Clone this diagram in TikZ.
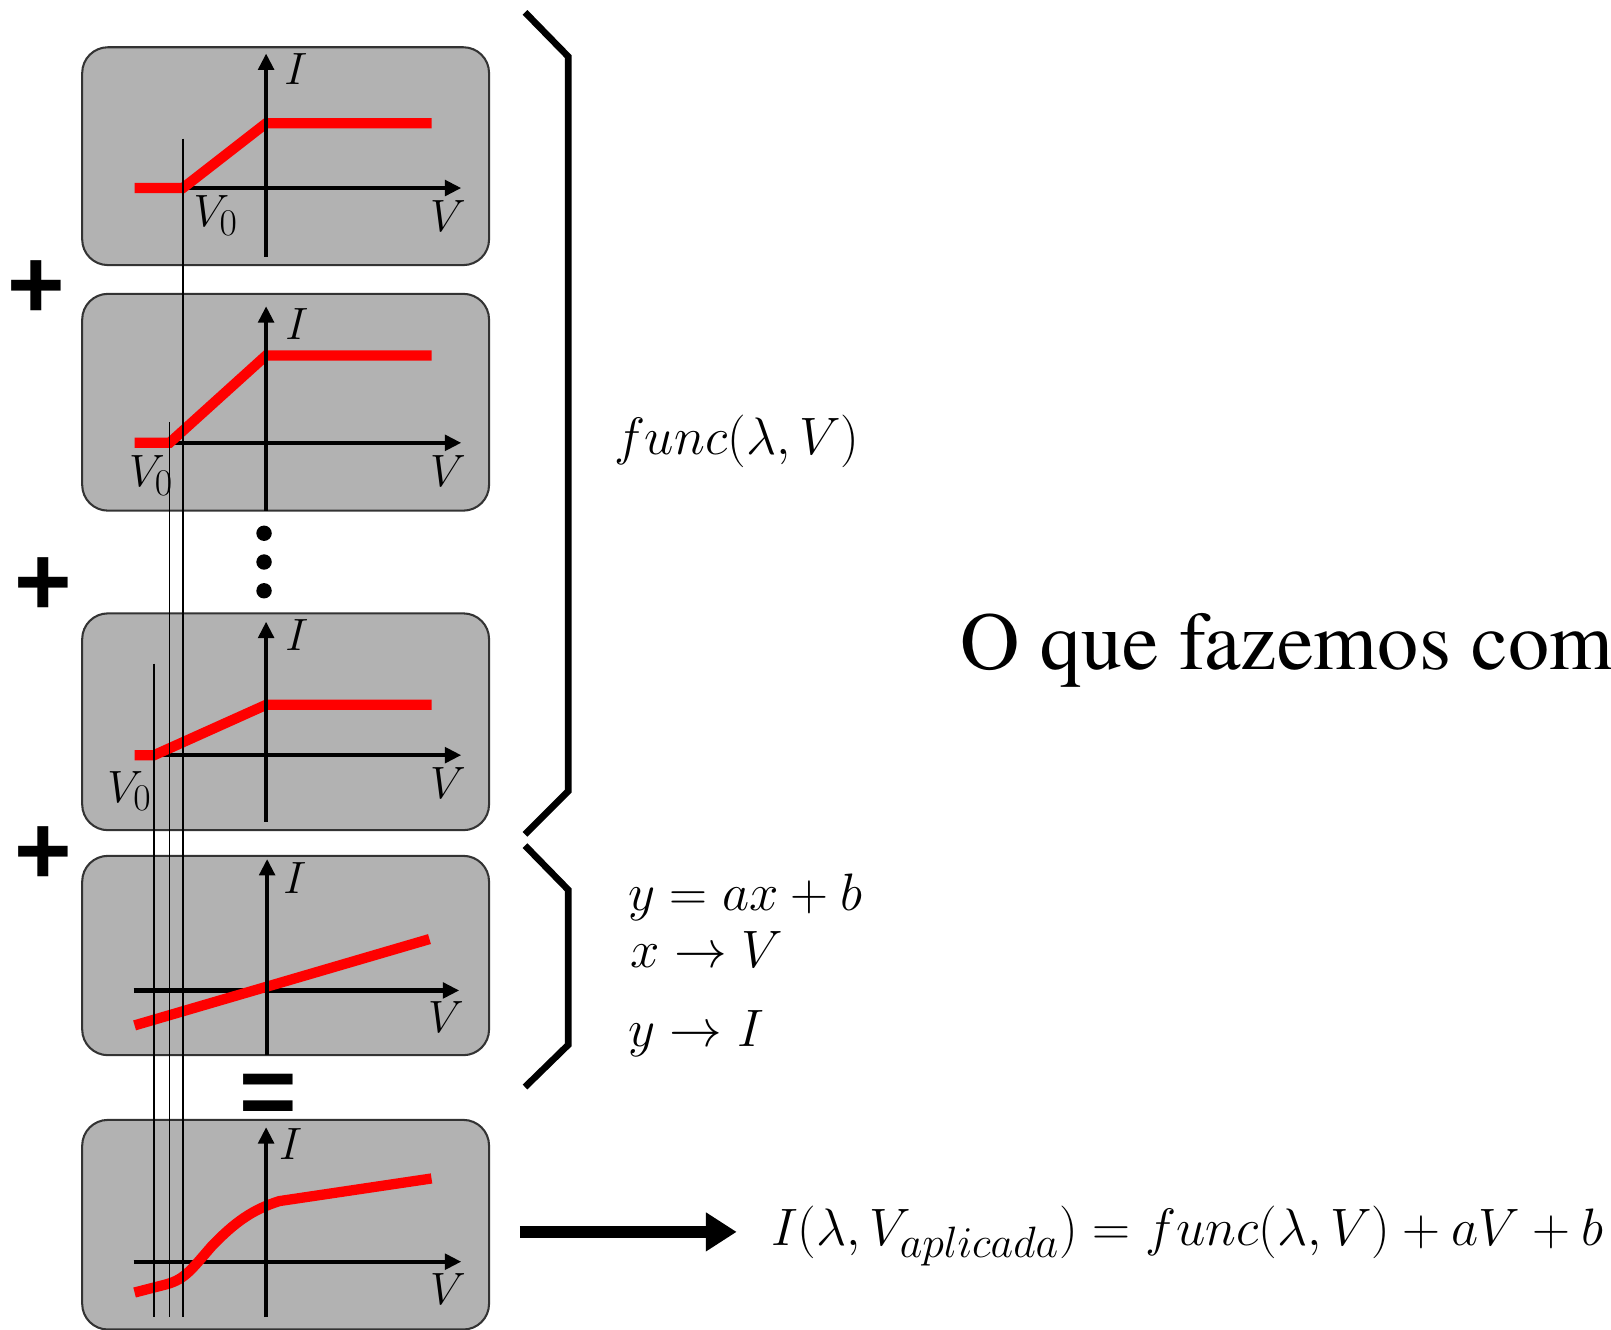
\documentclass[tikz,border=0pt]{standalone}
\usepackage{fontspec}
\newfontfamily\timesf{texgyretermes-regular.otf}
\newfontfamily\arialf{Liberation Sans}
\usetikzlibrary{arrows.meta}
\definecolor{boxgray}{RGB}{178,178,178}
\begin{document}
\begin{tikzpicture}[x=1pt,y=-1pt,
  plotbox/.style={draw=black!80, line width=2pt, fill=boxgray, rounded corners=25pt, minimum width=396pt, inner sep=0pt},
  axis/.style={line width=4pt, -{Triangle[length=16pt,width=15pt]}},
  haxis/.style={line width=4pt, -{Triangle[length=16pt,width=15pt]}},
  curve/.style={red, line width=10pt},
  guide/.style={line width=1.6pt},
  lbl/.style={font=\Huge, scale=1.77, transform shape, inner sep=0pt},
  mathtxt/.style={font=\Huge, scale=2.06, transform shape, inner sep=0pt},
  sym/.style={font=\arialf\bfseries\fontsize{96}{100}\selectfont, inner sep=0pt},
  brace/.style={line width=6.5pt}
]
\useasboundingbox (0,0) rectangle (1568,1294);

% boxes
\node[plotbox, minimum height=212pt] (b1) at (278,152) {};
\node[plotbox, minimum height=211pt] (b2) at (278,391.5) {};
\node[plotbox, minimum height=211pt] (b3) at (278,702.5) {};
\node[plotbox, minimum height=194pt] (b4) at (278,930) {};
\node[plotbox, minimum height=204pt] (b5) at (278,1192) {};

% box 1
\draw[haxis] (178,183) -- (449,183);
\draw[curve] (131,183) -- (178,183) -- (259,120) -- (420,120);
\draw[axis] (259,250) -- (259,52);
\node[lbl] (i1) at (288,67) {$I$};
\node[lbl] (v1) at (436,210) {$V$};
\node[lbl] (z1) at (210,210) {$V_0$};

% box 2
\draw[haxis] (165,431) -- (449,431);
\draw[curve] (131,431) -- (165,431) -- (259,346) -- (420,346);
\draw[axis] (259,497) -- (259,298);
\node[lbl] (i2) at (289,315) {$I$};
\node[lbl] (v2) at (436,458) {$V$};
\node[lbl] (z2) at (147,463) {$V_0$};

% dots
\fill (257,519) circle (7.5pt);
\fill (257,547) circle (7.5pt);
\fill (257,575) circle (7.5pt);

% box 3
\draw[haxis] (150,735) -- (449,735);
\draw[curve] (131,735) -- (150,735) -- (259,686) -- (420,686);
\draw[axis] (259,800) -- (259,605);
\node[lbl] (i3) at (289,618) {$I$};
\node[lbl] (v3) at (436,762) {$V$};
\node[lbl] (z3) at (126,770) {$V_0$};

% box 4
\draw[haxis] (130,964) -- (447,964);
\draw[curve] (131,998) -- (418,914);
\draw[axis] (260,1027) -- (260,836);
\node[lbl] (i4) at (287,855) {$I$};
\node[lbl] (v4) at (434,990) {$V$};

% box 5
\draw[haxis] (130,1228) -- (449,1228);
\draw[curve] (131,1258) -- (162,1250) .. controls (180,1245) and (186,1236) .. (206,1213)
  .. controls (228,1190) and (246,1177) .. (272,1169) -- (420,1147);
\draw[axis] (259,1282) -- (259,1097);
\node[lbl] (i5) at (283,1113) {$I$};
\node[lbl] (v5) at (436,1255) {$V$};

% guide lines
\draw[guide] (178,135) -- (178,1282);
\draw[guide] (165,411) -- (165,1282);
\draw[guide] (150,646) -- (150,1282);

% operators
\node[sym] (p1) at (35,282) {+};
\node[sym] (p2) at (42,571) {+};
\node[sym] (p3) at (42,833) {+};
\node[sym] (eq) at (261,1070) {=};

% braces
\draw[brace] (511,12) -- (553,55) -- (553,770) -- (511,812);
\draw[brace] (511,823) -- (553,866) -- (553,1017) -- (511,1058);

% texts
\node[mathtxt] (func) at (717,430) {$func(\lambda,V)$};
\node[mathtxt, anchor=base west] (lin1) at (611,886) {$y=ax+b$};
\node[mathtxt, anchor=base west] (lin2) at (613,942) {$x\rightarrow V$};
\node[mathtxt, anchor=base west] (lin3) at (611,1019) {$y\rightarrow I$};
\node[mathtxt, anchor=base west] (eqn) at (750,1212) {$I(\lambda,V_{aplicada})=func(\lambda,V)+aV+b$};
\node[font=\timesf\fontsize{80}{90}\selectfont, anchor=base west, inner sep=0pt] (q) at (935,652) {O que fazemos com};

% arrow
\coordinate (as) at (506,1199);
\coordinate (ae) at (717,1199);
\draw[line width=11pt, -{Triangle[length=30pt,width=36pt]}] (as) -- (ae);
\end{tikzpicture}
\end{document}
